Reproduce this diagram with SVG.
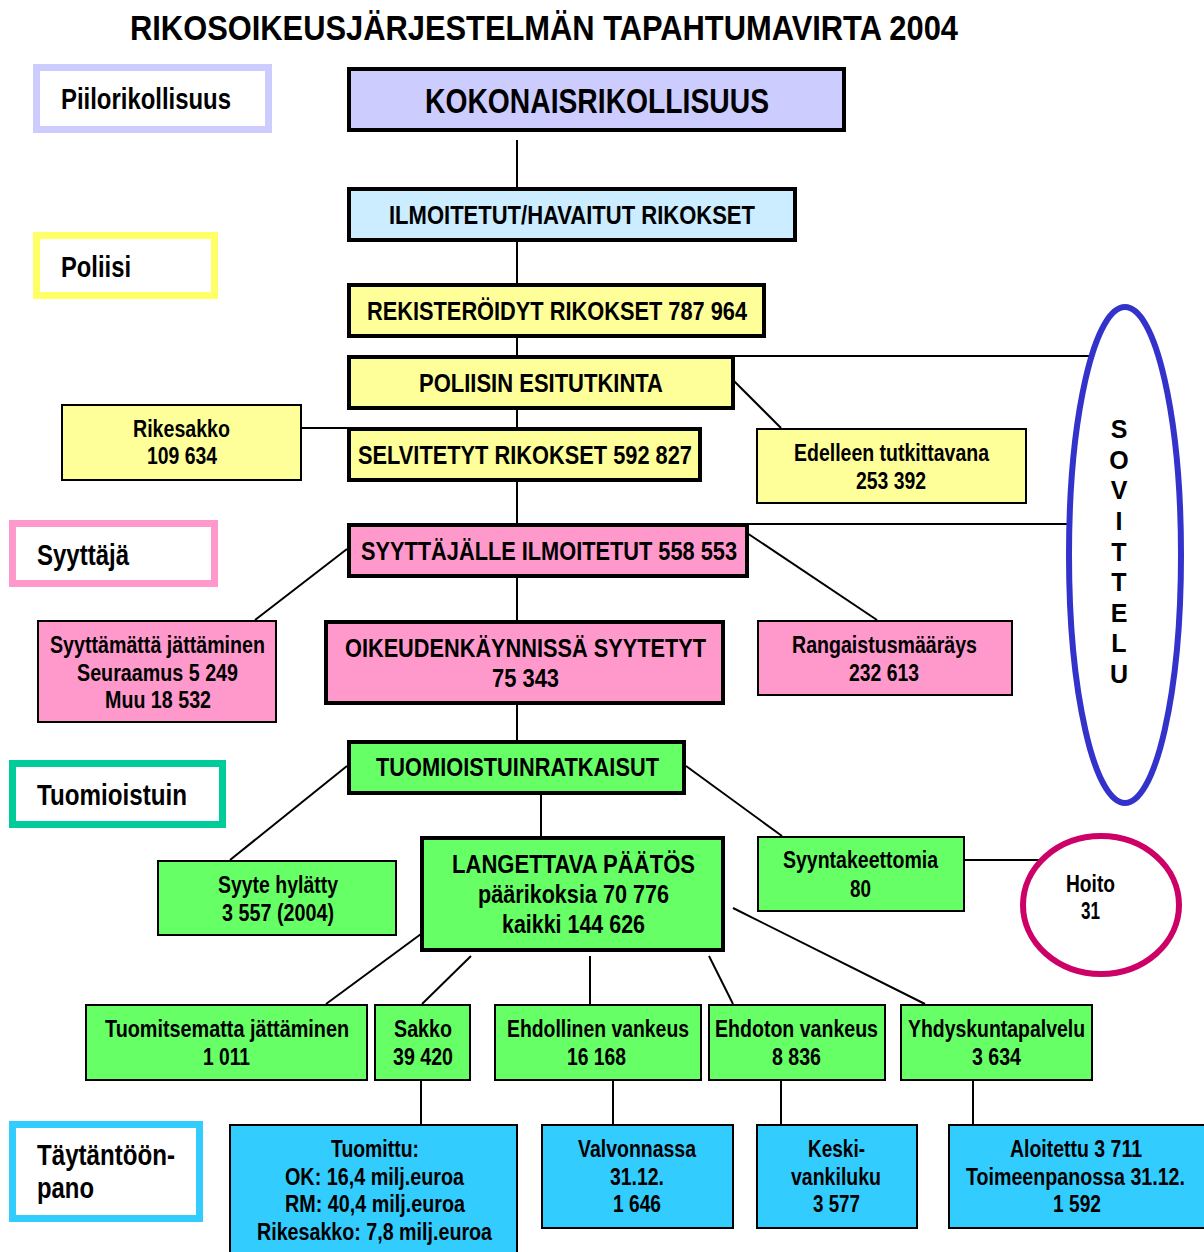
<svg xmlns="http://www.w3.org/2000/svg" width="1204" height="1252" viewBox="0 0 1204 1252">
<style>
text{font-family:"Liberation Sans Narrow","Arial Narrow","Liberation Sans",Arial,sans-serif;font-weight:bold;fill:#000}
.t{font-size:35px}
.big{font-size:35px}
.m{font-size:26.5px}
.s{font-size:23px}
.lab{font-size:30px}
.sov{font-family:"Liberation Sans",Arial,sans-serif;font-size:25px;text-anchor:middle}
.thick{stroke:#000;stroke-width:4}
.thin{stroke:#000;stroke-width:2}
.lb{fill:#fff;stroke-width:7}
.c{stroke:#000;stroke-width:2;fill:none}
</style>
<rect width="1204" height="1252" fill="#fff"/>
<text class="t" x="130" y="40" textLength="828" lengthAdjust="spacingAndGlyphs">RIKOSOIKEUSJÄRJESTELMÄN TAPAHTUMAVIRTA 2004</text>

<g id="connectors">
<line class="c" x1="517" y1="140" x2="517" y2="187"/>
<line class="c" x1="517" y1="236" x2="517" y2="283"/>
<line class="c" x1="517" y1="332" x2="517" y2="355"/>
<line class="c" x1="517" y1="404" x2="517" y2="427"/>
<line class="c" x1="734" y1="356" x2="1094" y2="356"/>
<line class="c" x1="734" y1="381" x2="781" y2="428"/>
<line class="c" x1="301" y1="428" x2="347" y2="428"/>
<line class="c" x1="517" y1="476" x2="517" y2="523"/>
<line class="c" x1="748" y1="524" x2="1069" y2="524"/>
<line class="c" x1="735" y1="525" x2="877" y2="620"/>
<line class="c" x1="347" y1="549" x2="255" y2="620"/>
<line class="c" x1="517" y1="572" x2="517" y2="620"/>
<line class="c" x1="517" y1="700" x2="517" y2="740"/>
<line class="c" x1="541" y1="789" x2="541" y2="836"/>
<line class="c" x1="347" y1="766" x2="230" y2="860"/>
<line class="c" x1="686" y1="766" x2="782" y2="836"/>
<line class="c" x1="948" y1="860" x2="1045" y2="860"/>
<line class="c" x1="421" y1="934" x2="326" y2="1004"/>
<line class="c" x1="471" y1="956" x2="422" y2="1004"/>
<line class="c" x1="590" y1="956" x2="590" y2="1004"/>
<line class="c" x1="709" y1="956" x2="733" y2="1004"/>
<line class="c" x1="733" y1="908" x2="925" y2="1004"/>
<line class="c" x1="421" y1="1068" x2="421" y2="1124"/>
<line class="c" x1="613" y1="1075" x2="613" y2="1124"/>
<line class="c" x1="781" y1="1075" x2="781" y2="1124"/>
<line class="c" x1="973" y1="1075" x2="973" y2="1124"/>
</g>

<g id="label-piilo"><rect class="lb" x="36.5" y="67.5" width="232" height="62" stroke="#CCCCFF"/><text class="lab" x="61" y="109" textLength="170" lengthAdjust="spacingAndGlyphs">Piilorikollisuus</text></g>
<g id="label-poliisi"><rect class="lb" x="36.5" y="235.5" width="178" height="60" stroke="#FFFF66"/><text class="lab" x="61" y="277" textLength="70" lengthAdjust="spacingAndGlyphs">Poliisi</text></g>
<g id="label-syyttaja"><rect class="lb" x="12.5" y="523.5" width="202" height="60" stroke="#FF99CC"/><text class="lab" x="37" y="565" textLength="92" lengthAdjust="spacingAndGlyphs">Syyttäjä</text></g>
<g id="label-tuomioistuin"><rect class="lb" x="12.5" y="763.5" width="210" height="61" stroke="#00CC99"/><text class="lab" x="37" y="805" textLength="150" lengthAdjust="spacingAndGlyphs">Tuomioistuin</text></g>
<g id="label-taytanto"><rect class="lb" x="12.5" y="1124.5" width="187" height="94" stroke="#33CCFF"/><text class="lab" x="37" y="1165" textLength="138" lengthAdjust="spacingAndGlyphs">Täytäntöön-</text><text class="lab" x="37" y="1198" textLength="57" lengthAdjust="spacingAndGlyphs">pano</text></g>

<g id="kokonais"><rect class="thick" x="349" y="69" width="495" height="61" fill="#CCCCFF"/><text class="big" x="425" y="113" textLength="344" lengthAdjust="spacingAndGlyphs">KOKONAISRIKOLLISUUS</text></g>
<g id="ilmoitetut"><rect class="thick" x="349" y="189" width="446" height="51" fill="#CCECFF"/><text class="m" x="389" y="224" textLength="366" lengthAdjust="spacingAndGlyphs">ILMOITETUT/HAVAITUT RIKOKSET</text></g>
<g id="rekisteroidyt"><rect class="thick" x="349" y="285" width="415" height="51" fill="#FFFF99"/><text class="m" x="367" y="320" textLength="380" lengthAdjust="spacingAndGlyphs">REKISTERÖIDYT RIKOKSET 787 964</text></g>
<g id="esitutkinta"><rect class="thick" x="349" y="357" width="384" height="51" fill="#FFFF99"/><text class="m" x="419" y="392" textLength="244" lengthAdjust="spacingAndGlyphs">POLIISIN ESITUTKINTA</text></g>
<g id="rikesakko"><rect class="thin" x="62" y="405" width="239" height="75" fill="#FFFF99"/><text class="s" x="133" y="437" textLength="97" lengthAdjust="spacingAndGlyphs">Rikesakko</text><text class="s" x="147" y="464" textLength="70" lengthAdjust="spacingAndGlyphs">109 634</text></g>
<g id="selvitetyt"><rect class="thick" x="349" y="429" width="351" height="51" fill="#FFFF99"/><text class="m" x="358" y="464" textLength="334" lengthAdjust="spacingAndGlyphs">SELVITETYT RIKOKSET 592 827</text></g>
<g id="edelleen"><rect class="thin" x="757" y="429" width="269" height="74" fill="#FFFF99"/><text class="s" x="794" y="461" textLength="195" lengthAdjust="spacingAndGlyphs">Edelleen tutkittavana</text><text class="s" x="856" y="489" textLength="70" lengthAdjust="spacingAndGlyphs">253 392</text></g>
<g id="syyttajalle"><rect class="thick" x="349" y="525" width="398" height="51" fill="#FF99CC"/><text class="m" x="361" y="560" textLength="376" lengthAdjust="spacingAndGlyphs">SYYTTÄJÄLLE ILMOITETUT 558 553</text></g>
<g id="syyttamatta"><rect class="thin" x="38" y="621" width="238" height="101" fill="#FF99CC"/><text class="s" x="50" y="653" textLength="215" lengthAdjust="spacingAndGlyphs">Syyttämättä jättäminen</text><text class="s" x="77" y="681" textLength="161" lengthAdjust="spacingAndGlyphs">Seuraamus 5 249</text><text class="s" x="105" y="708" textLength="106" lengthAdjust="spacingAndGlyphs">Muu 18 532</text></g>
<g id="oikeudenkaynnissa"><rect class="thick" x="326" y="622" width="397" height="81" fill="#FF99CC"/><text class="m" x="345" y="657" textLength="361" lengthAdjust="spacingAndGlyphs">OIKEUDENKÄYNNISSÄ SYYTETYT</text><text class="m" x="492" y="687" textLength="67" lengthAdjust="spacingAndGlyphs">75 343</text></g>
<g id="rangaistus"><rect class="thin" x="758" y="621" width="254" height="74" fill="#FF99CC"/><text class="s" x="792" y="653" textLength="185" lengthAdjust="spacingAndGlyphs">Rangaistusmääräys</text><text class="s" x="849" y="681" textLength="70" lengthAdjust="spacingAndGlyphs">232 613</text></g>
<g id="tuomioistuinratkaisut"><rect class="thick" x="349" y="742" width="335" height="51" fill="#66FF66"/><text class="m" x="376" y="776" textLength="283" lengthAdjust="spacingAndGlyphs">TUOMIOISTUINRATKAISUT</text></g>
<g id="syyte-hylatty"><rect class="thin" x="158" y="861" width="238" height="74" fill="#66FF66"/><text class="s" x="218" y="893" textLength="120" lengthAdjust="spacingAndGlyphs">Syyte hylätty</text><text class="s" x="222" y="921" textLength="112" lengthAdjust="spacingAndGlyphs">3 557 (2004)</text></g>
<g id="langettava"><rect class="thick" x="422" y="838" width="301" height="112" fill="#66FF66"/><text class="m" x="452" y="873" textLength="243" lengthAdjust="spacingAndGlyphs">LANGETTAVA PÄÄTÖS</text><text class="m" x="478" y="903" textLength="191" lengthAdjust="spacingAndGlyphs">päärikoksia 70 776</text><text class="m" x="502" y="933" textLength="143" lengthAdjust="spacingAndGlyphs">kaikki 144 626</text></g>
<g id="syyntakeettomia"><rect class="thin" x="758" y="837" width="206" height="74" fill="#66FF66"/><text class="s" x="783" y="868" textLength="155" lengthAdjust="spacingAndGlyphs">Syyntakeettomia</text><text class="s" x="850" y="897" textLength="21" lengthAdjust="spacingAndGlyphs">80</text></g>
<g id="hoito"><ellipse cx="1101" cy="905" rx="78" ry="69" fill="#fff" stroke="#CC0066" stroke-width="6"/><text class="s" x="1066" y="892" textLength="49" lengthAdjust="spacingAndGlyphs">Hoito</text><text class="s" x="1081" y="919" textLength="19" lengthAdjust="spacingAndGlyphs">31</text></g>
<g id="sovittelu"><ellipse cx="1125" cy="555" rx="56" ry="248" fill="none" stroke="#3333CC" stroke-width="6"/>
<text class="sov" x="1119" y="438">S</text><text class="sov" x="1119" y="469">O</text><text class="sov" x="1119" y="499">V</text><text class="sov" x="1119" y="530">I</text><text class="sov" x="1119" y="561">T</text><text class="sov" x="1119" y="591">T</text><text class="sov" x="1119" y="622">E</text><text class="sov" x="1119" y="652">L</text><text class="sov" x="1119" y="683">U</text></g>

<g id="tuomitsematta"><rect class="thin" x="86" y="1005" width="281" height="75" fill="#66FF66"/><text class="s" x="105" y="1037" textLength="244" lengthAdjust="spacingAndGlyphs">Tuomitsematta jättäminen</text><text class="s" x="203" y="1065" textLength="47" lengthAdjust="spacingAndGlyphs">1 011</text></g>
<g id="sakko"><rect class="thin" x="375" y="1005" width="95" height="75" fill="#66FF66"/><text class="s" x="394" y="1037" textLength="58" lengthAdjust="spacingAndGlyphs">Sakko</text><text class="s" x="393" y="1065" textLength="60" lengthAdjust="spacingAndGlyphs">39 420</text></g>
<g id="ehdollinen"><rect class="thin" x="495" y="1005" width="206" height="75" fill="#66FF66"/><text class="s" x="507" y="1037" textLength="182" lengthAdjust="spacingAndGlyphs">Ehdollinen vankeus</text><text class="s" x="567" y="1065" textLength="59" lengthAdjust="spacingAndGlyphs">16 168</text></g>
<g id="ehdoton"><rect class="thin" x="709" y="1005" width="176" height="75" fill="#66FF66"/><text class="s" x="715" y="1037" textLength="163" lengthAdjust="spacingAndGlyphs">Ehdoton vankeus</text><text class="s" x="772" y="1065" textLength="49" lengthAdjust="spacingAndGlyphs">8 836</text></g>
<g id="yhdyskuntapalvelu"><rect class="thin" x="901" y="1005" width="191" height="75" fill="#66FF66"/><text class="s" x="908" y="1037" textLength="177" lengthAdjust="spacingAndGlyphs">Yhdyskuntapalvelu</text><text class="s" x="972" y="1065" textLength="49" lengthAdjust="spacingAndGlyphs">3 634</text></g>

<g id="tuomittu"><rect class="thin" x="230" y="1125" width="287" height="140" fill="#33CCFF"/><text class="s" x="331" y="1157" textLength="88" lengthAdjust="spacingAndGlyphs">Tuomittu:</text><text class="s" x="285" y="1185" textLength="179" lengthAdjust="spacingAndGlyphs">OK: 16,4 milj.euroa</text><text class="s" x="285" y="1212" textLength="180" lengthAdjust="spacingAndGlyphs">RM: 40,4 milj.euroa</text><text class="s" x="257" y="1240" textLength="235" lengthAdjust="spacingAndGlyphs">Rikesakko: 7,8 milj.euroa</text></g>
<g id="valvonnassa"><rect class="thin" x="542" y="1125" width="191" height="103" fill="#33CCFF"/><text class="s" x="578" y="1157" textLength="118" lengthAdjust="spacingAndGlyphs">Valvonnassa</text><text class="s" x="610" y="1185" textLength="54" lengthAdjust="spacingAndGlyphs">31.12.</text><text class="s" x="613" y="1212" textLength="48" lengthAdjust="spacingAndGlyphs">1 646</text></g>
<g id="keskivankiluku"><rect class="thin" x="757" y="1125" width="160" height="103" fill="#33CCFF"/><text class="s" x="808" y="1157" textLength="57" lengthAdjust="spacingAndGlyphs">Keski-</text><text class="s" x="791" y="1185" textLength="90" lengthAdjust="spacingAndGlyphs">vankiluku</text><text class="s" x="813" y="1212" textLength="47" lengthAdjust="spacingAndGlyphs">3 577</text></g>
<g id="aloitettu"><rect class="thin" x="949" y="1125" width="257" height="103" fill="#33CCFF"/><text class="s" x="1010" y="1157" textLength="132" lengthAdjust="spacingAndGlyphs">Aloitettu 3 711</text><text class="s" x="966" y="1185" textLength="219" lengthAdjust="spacingAndGlyphs">Toimeenpanossa 31.12.</text><text class="s" x="1053" y="1212" textLength="48" lengthAdjust="spacingAndGlyphs">1 592</text></g>
</svg>
